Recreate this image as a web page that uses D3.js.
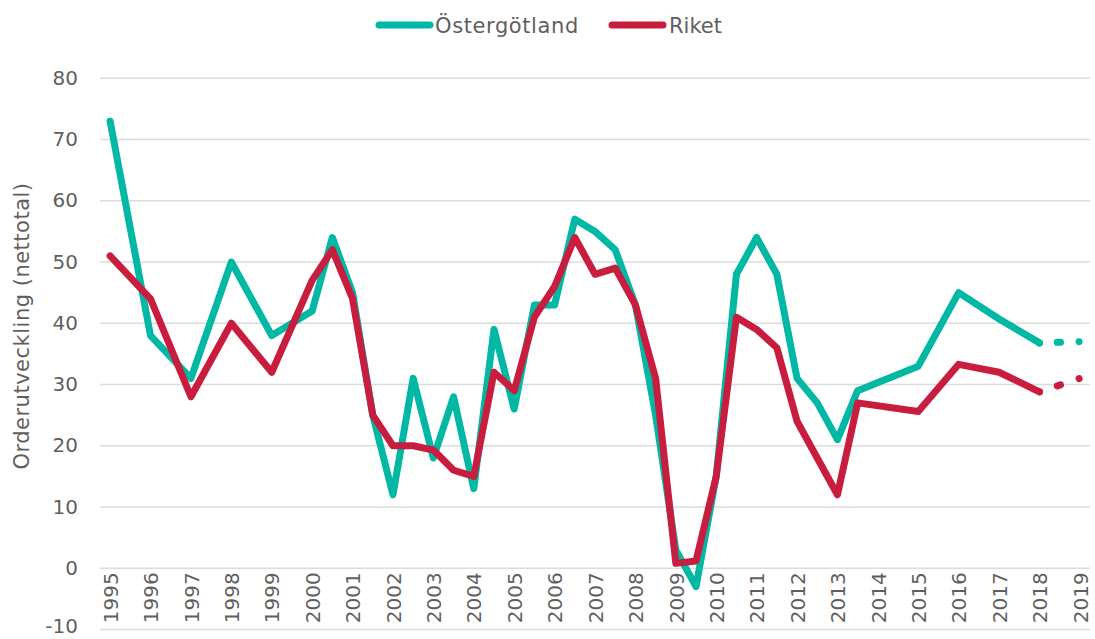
<!DOCTYPE html>
<html>
<head>
<meta charset="utf-8">
<script src="https://cdn.jsdelivr.net/npm/d3@7"></script>
<style>
  html, body { margin: 0; padding: 0; background: #fff; }
  svg { display: block; }
</style>
</head>
<body>
<svg id="chart" width="1095" height="639"></svg>
<script>
// Half-year categories 1995 .. 2019 (labels only at whole years)
const categories = ["1995","","1996","","1997","","1998","","1999","","2000","","2001","","2002","","2003","","2004","","2005","","2006","","2007","","2008","","2009","","2010","","2011","","2012","","2013","","2014","","2015","","2016","","2017","","2018","","2019"];

const seriesNames = ["Östergötland", "Riket"];

const ostergotland = [73,null,38,null,31,null,50,null,38,null,42,54,45,25,12,31,18,28,13,39,26,43,43,57,55,52,43,25,3,-3,15,48,54,48,31,27,21,29,null,null,33,null,45,null,40.7,null,36.8,null,37];

const riket = [51,null,44,null,28,null,40,null,32,null,47,52,44,25,20,20,19.3,16,15,32,29,41,46,54,48,49,43,31,0.8,1.2,15,41,39,36,24,18,12,27,null,null,25.6,null,33.3,null,32,null,28.8,null,31];

// Last solid index; after it the series continues dotted (forecast)
const forecastFrom = 46;

const yTicks = [-10,0,10,20,30,40,50,60,70,80];
const yTitle = "Orderutveckling (nettotal)";

const colors = ["#00b8a3", "#c91d40"];

const svg = d3.select("#chart");
const plot = {left: 100, right: 1090, top: 78.3, bottom: 629.5};

const x = d3.scalePoint()
  .domain(d3.range(categories.length))
  .range([plot.left, plot.right])
  .padding(0.5);

const y = d3.scaleLinear().domain([-10, 80]).range([plot.bottom, plot.top]);

const numFont = "'DejaVu Sans', Verdana, sans-serif";
const textColor = "#5f5f5f";

// gridlines
svg.append("g")
  .selectAll("line")
  .data(yTicks)
  .join("line")
  .attr("x1", plot.left).attr("x2", plot.right)
  .attr("y1", d => y(d)).attr("y2", d => y(d))
  .attr("stroke", "#dcdcdc").attr("stroke-width", 1.5);

// y axis labels
const yAxis = d3.axisLeft(y).tickValues(yTicks).tickSize(0).tickPadding(0).tickFormat(d => String(d));
const gy = svg.append("g").attr("transform", `translate(78,0)`).call(yAxis);
gy.select(".domain").remove();
gy.selectAll("text")
  .attr("font-family", numFont).attr("font-size", 20)
  .attr("fill", textColor).attr("dy", "0.3em")
  .attr("y", d => d === -10 ? -3 : 0);

// y title
svg.append("text")
  .attr("transform", `translate(29,326) rotate(-90)`)
  .attr("text-anchor", "middle")
  .attr("font-family", numFont).attr("font-size", 21)
  .attr("letter-spacing", 0.5)
  .attr("fill", textColor)
  .text(yTitle);

// x axis labels, hanging below the 0 line
const xAxis = d3.axisBottom(x).tickSize(0).tickPadding(0).tickFormat(i => categories[i]);
const gx = svg.append("g").attr("transform", `translate(0,${y(0)})`).call(xAxis);
gx.select(".domain").remove();
gx.selectAll("text")
  .attr("font-family", numFont).attr("font-size", 20)
  .attr("fill", textColor)
  .attr("text-anchor", "end")
  .attr("transform", "rotate(-90)")
  .attr("x", -4).attr("y", 0).attr("dy", "0.36em");

// lines
const allSeries = [ostergotland, riket];
const line = d3.line()
  .x(d => x(d.i)).y(d => y(d.v));

allSeries.forEach((vals, k) => {
  const pts = vals.map((v, i) => ({i, v})).filter(d => d.v !== null);
  const solid = pts.filter(d => d.i <= forecastFrom);
  const dotted = pts.filter(d => d.i >= forecastFrom);
  svg.append("path")
    .attr("d", line(solid))
    .attr("fill", "none").attr("stroke", colors[k])
    .attr("stroke-width", 7).attr("stroke-linejoin", "round").attr("stroke-linecap", "round");
  const p = svg.append("path")
    .attr("d", line(dotted))
    .attr("fill", "none").attr("stroke", colors[k])
    .attr("stroke-width", 7).attr("stroke-linecap", "round");
  const L = p.node().getTotalLength();
  p.attr("stroke-dasharray", `0 ${L*0.44} ${L*0.08} ${L*0.46} 0.01 ${L}`);
});

// legend
const legend = svg.append("g");
const legendItems = [
  {name: seriesNames[0], x1: 379, x2: 430, tx: 435},
  {name: seriesNames[1], x1: 612, x2: 663, tx: 669}
];
legendItems.forEach((it, k) => {
  legend.append("line")
    .attr("x1", it.x1).attr("x2", it.x2).attr("y1", 25).attr("y2", 25)
    .attr("stroke", colors[k]).attr("stroke-width", 7).attr("stroke-linecap", "round");
  legend.append("text")
    .attr("x", it.tx).attr("y", 25).attr("dy", "0.36em")
    .attr("font-family", numFont).attr("font-size", 21)
    .attr("letter-spacing", k === 0 ? 0.6 : 0)
    .attr("fill", textColor)
    .text(it.name);
});
</script>
</body>
</html>
